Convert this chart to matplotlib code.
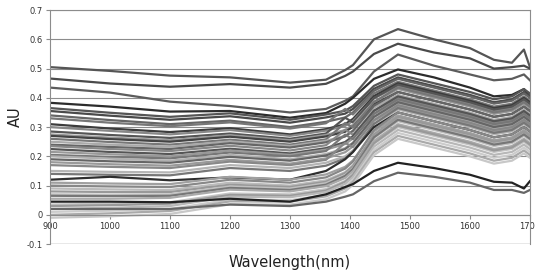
import matplotlib
matplotlib.use("Agg")
import matplotlib.pyplot as plt

WAVELENGTH = [900, 1000, 1100, 1200, 1300, 1360, 1392, 1405,
              1440, 1480, 1540, 1600, 1640, 1670, 1690, 1700]

# upper, well separated spectra
UPPER = [
    [.505, .492, .476, .470, .452, .462, .495, .512, .600, .635, .600, .570, .530, .520, .565, .505],
    [.466, .449, .438, .447, .435, .448, .475, .490, .550, .585, .555, .535, .500, .505, .510, .500],
    [.435, .418, .387, .372, .350, .362, .390, .405, .490, .548, .510, .480, .460, .465, .480, .460],
    [.383, .370, .353, .355, .332, .348, .380, .400, .465, .497, .470, .435, .405, .410, .430, .405],
]
UPPER_SHADES = ["#555555", "#4a4a4a", "#5c5c5c", "#2c2c2c"]

# dense main group
BUNDLE = [
    [.365, .349, .335, .347, .325, .343, .356, .372, .441, .480, .450, .420, .395, .405, .430, .415],
    [.355, .339, .325, .337, .315, .333, .346, .362, .431, .470, .440, .410, .385, .395, .420, .405],
    [.340, .324, .310, .322, .300, .318, .333, .350, .424, .465, .435, .405, .380, .390, .415, .400],
    [.330, .315, .303, .316, .295, .313, .362, .343, .415, .455, .425, .395, .370, .380, .405, .390],
    [.310, .295, .283, .296, .275, .293, .310, .328, .406, .450, .420, .390, .365, .375, .400, .385],
    [.300, .287, .275, .290, .270, .288, .304, .321, .398, .440, .410, .380, .355, .365, .390, .375],
    [.285, .273, .263, .278, .260, .278, .332, .316, .399, .445, .415, .385, .360, .370, .395, .380],
    [.275, .264, .255, .272, .255, .273, .290, .308, .386, .430, .400, .370, .345, .355, .380, .365],
    [.270, .259, .250, .267, .250, .268, .284, .301, .378, .420, .390, .360, .335, .345, .370, .355],
    [.260, .249, .240, .257, .240, .258, .314, .299, .386, .435, .405, .375, .350, .360, .385, .370],
    [.250, .240, .233, .251, .235, .253, .270, .288, .366, .410, .380, .350, .325, .335, .360, .345],
    [.240, .232, .225, .245, .230, .248, .268, .287, .373, .420, .390, .360, .335, .345, .370, .355],
    [.235, .225, .218, .236, .220, .238, .291, .274, .355, .400, .370, .340, .315, .325, .350, .335],
    [.225, .215, .208, .226, .210, .228, .249, .269, .356, .405, .375, .345, .320, .330, .355, .340],
    [.215, .207, .200, .220, .205, .223, .242, .261, .344, .390, .360, .330, .305, .315, .340, .325],
    [.205, .198, .193, .213, .200, .218, .274, .259, .346, .395, .365, .335, .310, .320, .345, .330],
    [.200, .192, .185, .205, .190, .208, .228, .247, .333, .380, .350, .320, .295, .305, .330, .315],
    [.190, .183, .178, .198, .185, .203, .225, .245, .335, .385, .355, .325, .300, .310, .335, .320],
    [.180, .173, .168, .188, .175, .193, .214, .234, .321, .370, .340, .310, .285, .295, .320, .305],
    [.170, .164, .160, .182, .170, .188, .246, .232, .324, .375, .345, .315, .290, .300, .325, .310],
    [.150, .147, .145, .170, .160, .178, .200, .220, .310, .360, .330, .300, .275, .285, .310, .295],
    [.140, .137, .135, .160, .150, .168, .193, .215, .311, .365, .335, .305, .280, .290, .315, .300],
    [.120, .130, .118, .128, .120, .150, .190, .215, .300, .350, .320, .290, .265, .275, .300, .285],
    [.110, .107, .105, .130, .120, .138, .164, .186, .285, .340, .310, .280, .255, .265, .290, .275],
    [.100, .097, .095, .120, .110, .128, .158, .182, .290, .350, .320, .290, .265, .275, .300, .285],
    [.090, .087, .085, .110, .100, .118, .146, .169, .273, .330, .300, .270, .245, .255, .280, .265],
    [.080, .078, .078, .103, .095, .113, .143, .167, .275, .335, .305, .275, .250, .260, .285, .270],
    [.070, .069, .070, .097, .090, .108, .136, .159, .263, .320, .290, .260, .235, .245, .270, .255],
    [.065, .064, .065, .092, .085, .103, .133, .157, .265, .325, .295, .265, .240, .250, .275, .260],
    [.055, .055, .058, .086, .080, .098, .126, .149, .253, .310, .280, .250, .225, .235, .260, .245],
    [.035, .038, .043, .073, .070, .088, .116, .139, .243, .300, .270, .240, .215, .225, .250, .235],
    [.030, .033, .038, .068, .065, .083, .113, .137, .245, .305, .275, .245, .220, .230, .255, .240],
    [.020, .024, .030, .062, .060, .078, .106, .129, .233, .290, .260, .230, .205, .215, .240, .225],
    [.010, .014, .020, .052, .050, .068, .096, .119, .223, .280, .250, .220, .195, .205, .230, .215],
    [.000, .005, .013, .046, .045, .063, .090, .113, .214, .270, .240, .210, .185, .195, .220, .205],
    [-.010, -.005, .003, .036, .035, .053, .080, .103, .204, .260, .230, .200, .175, .185, .210, .195],
]
BUNDLE_SHADES = [
    "#555555", "#4a4a4a", "#666666", "#777777", "#3c3c3c", "#888888",
    "#555555", "#999999", "#444444", "#777777", "#aaaaaa", "#666666",
    "#888888", "#555555", "#999999", "#777777", "#b0b0b0", "#666666",
    "#9a9a9a", "#888888", "#b5b5b5", "#777777", "#2e2e2e", "#a0a0a0",
    "#888888", "#bbbbbb", "#999999", "#c0c0c0", "#777777", "#aaaaaa",
    "#c4c4c4", "#999999", "#b8b8b8", "#cccccc", "#aaaaaa", "#c8c8c8",
]

# two low spectra below the main group
LOWER = [
    [.045, .045, .043, .055, .045, .070, .095, .105, .150, .178, .160, .137, .113, .110, .090, .115],
    [.020, .020, .020, .035, .030, .045, .062, .070, .115, .144, .130, .110, .085, .085, .075, .085],
]
LOWER_SHADES = ["#222222", "#666666"]

Y_TICKS = [-0.1, 0, 0.1, 0.2, 0.3, 0.4, 0.5, 0.6, 0.7]
Y_LABELS = ["-0.1", "0", "0.1", "0.2", "0.3", "0.4", "0.5", "0.6", "0.7"]
X_TICKS = [900, 1000, 1100, 1200, 1300, 1400, 1500, 1600, 1700]

fig = plt.figure(figsize=(5.35, 2.73), dpi=100)
ax = fig.add_axes([0.0935, 0.106, 0.897, 0.857])

for y in Y_TICKS[1:]:
    ax.axhline(y, color="#8c8c8c", lw=0.8, zorder=0)

for rows, shades in ((UPPER, UPPER_SHADES), (BUNDLE, BUNDLE_SHADES), (LOWER, LOWER_SHADES)):
    for vals, c in zip(rows, shades):
        ax.plot(WAVELENGTH, vals, color=c, lw=1.6, solid_joinstyle="round")

ax.set_xlim(900, 1700)
ax.set_ylim(-0.1, 0.7)
ax.set_yticks(Y_TICKS)
ax.set_yticklabels(Y_LABELS)
ax.set_xticks(X_TICKS)
ax.set_xticklabels([str(x) for x in X_TICKS])

for s in ax.spines.values():
    s.set_color("#8c8c8c")
    s.set_linewidth(0.8)
ax.spines["bottom"].set_position(("data", 0))
ax.axhline(-0.1, color="#8c8c8c", lw=1.0)

ax.tick_params(axis="both", labelsize=6, colors="#8c8c8c", labelcolor="#333333",
               length=3, width=0.8, direction="out", pad=2)

fig.text(0.542, 1 - 262 / 273, "Wavelength(nm)", ha="center", va="center",
         fontsize=10.5, color="#222222")
fig.text(0.028, 1 - 117 / 273, "AU", ha="center", va="center", rotation=90,
         fontsize=10.5, color="#222222")

fig.savefig("out.png", dpi=100)
